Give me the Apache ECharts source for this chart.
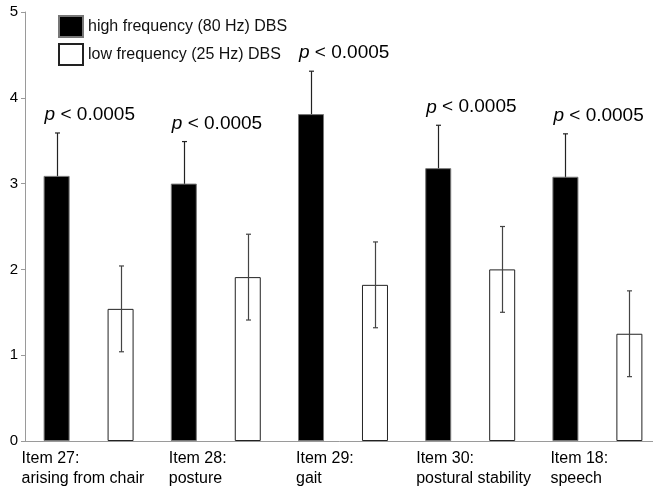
<!DOCTYPE html>
<html>
<head>
<meta charset="utf-8">
<script src="https://cdn.jsdelivr.net/npm/echarts@6/dist/echarts.min.js"></script>
<style>
html,body{margin:0;padding:0;background:#fff;}
#chart{width:653px;height:488px;}
</style>
</head>
<body>
<div id="chart"></div>
<script>
// ---- data ----
const categories = ['Item 27:\narising from chair', 'Item 28:\nposture', 'Item 29:\ngait', 'Item 30:\npostural stability', 'Item 18:\nspeech'];
const labelShift = [-67, -47, -47, -54, -47];
const seriesNames = ['high frequency (80 Hz) DBS', 'low frequency (25 Hz) DBS'];
const highFreq = [3.09, 3.00, 3.81, 3.18, 3.08];
const highErr = [0.50, 0.49, 0.50, 0.50, 0.50];
const lowFreq = [1.54, 1.91, 1.82, 2.00, 1.25];
const lowErr = [0.50, 0.50, 0.50, 0.50, 0.50];
const pText = ['0.0005', '0.0005', '0.0005', '0.0005', '0.0005'];
const yMin = 0, yMax = 5, yStep = 1;

// ---- layout constants ----
const FONT = "'Liberation Sans', Arial, sans-serif";
const BAR_W = 26;
const BAR_GAP = 1.46;
const HALF_OFF = BAR_W * (1 + BAR_GAP) / 2;

const chart = echarts.init(document.getElementById('chart'), null, {renderer: 'canvas'});

function errorSeries(vals, errs, sign, color, z) {
  return {
    type: 'custom',
    z: z,
    silent: true,
    data: vals.map((v, i) => [i, v - errs[i], v + errs[i]]),
    renderItem: function (params, api) {
      const c = api.value(0);
      const lo = api.coord([c, api.value(1)]);
      const hi = api.coord([c, api.value(2)]);
      const x = Math.round(lo[0] + sign * HALF_OFF) + 0.5;
      const cap = 2.5;
      const st = {stroke: color, lineWidth: 1.2};
      return {
        type: 'group',
        children: [
          {type: 'line', shape: {x1: x, y1: lo[1], x2: x, y2: hi[1]}, style: st},
          {type: 'line', shape: {x1: x - cap, y1: hi[1], x2: x + cap, y2: hi[1]}, style: st},
          {type: 'line', shape: {x1: x - cap, y1: lo[1], x2: x + cap, y2: lo[1]}, style: st}
        ]
      };
    }
  };
}

const option = {
  animation: false,
  backgroundColor: '#ffffff',
  textStyle: {fontFamily: FONT},
  grid: {left: 25, top: 12, width: 636, height: 429, containLabel: false, outerBoundsMode: 'none'},
  legend: {
    orient: 'vertical',
    left: 58,
    top: 15,
    padding: 0,
    itemWidth: 24,
    itemHeight: 21,
    itemGap: 5,
    icon: 'rect',
    data: seriesNames,
    textStyle: {fontFamily: FONT, fontSize: 16, color: '#111'},
    selectedMode: false
  },
  xAxis: {
    type: 'category',
    data: categories,
    axisLine: {lineStyle: {color: '#9a9a9a', width: 1}},
    axisTick: {show: false},
    axisLabel: {show: false}
  },
  yAxis: {
    type: 'value',
    min: yMin,
    max: yMax,
    interval: yStep,
    splitLine: {show: false},
    axisLine: {show: true, lineStyle: {color: '#9a9a9a', width: 1}},
    axisTick: {show: true, length: 4, lineStyle: {color: '#9a9a9a'}},
    axisLabel: {fontFamily: FONT, fontSize: 15, color: '#000', margin: 7, padding: [6, 0, 0, 0]}
  },
  series: [
    {
      name: seriesNames[0],
      type: 'bar',
      z: 2,
      data: highFreq,
      barWidth: BAR_W,
      barGap: (BAR_GAP * 100) + '%',
      itemStyle: {color: '#000000', borderColor: '#777', borderWidth: 1}
    },
    {
      name: seriesNames[1],
      type: 'bar',
      z: 2,
      data: lowFreq,
      barWidth: BAR_W,
      itemStyle: {color: '#ffffff', borderColor: '#222', borderWidth: 1}
    },
    errorSeries(highFreq, highErr, -1, '#222', 1),
    errorSeries(lowFreq, lowErr, 1, '#444', 5),
    {
      type: 'custom',
      z: 6,
      silent: true,
      data: highFreq.map((v, i) => [i, v + highErr[i]]),
      renderItem: function (params, api) {
        const c = api.value(0);
        const p = api.coord([c, api.value(1)]);
        const i = params.dataIndex;
        return {
          type: 'text',
          x: p[0] - HALF_OFF - BAR_W / 2 + 1,
          y: p[1] - 18,
          style: {
            text: '{i|p} < ' + pText[i],
            rich: {i: {fontStyle: 'italic', fontFamily: FONT, fontSize: 19, fill: '#000'}},
            fontFamily: FONT,
            fontSize: 19,
            fill: '#000',
            align: 'left',
            verticalAlign: 'middle'
          }
        };
      }
    },
    {
      type: 'custom',
      z: 6,
      silent: true,
      clip: false,
      data: categories.map((c, i) => [i, yMin]),
      renderItem: function (params, api) {
        const i = params.dataIndex;
        const p = api.coord([api.value(0), api.value(1)]);
        return {
          type: 'text',
          x: p[0] + labelShift[i],
          y: p[1] + 8,
          style: {
            text: categories[i],
            fontFamily: FONT,
            fontSize: 16,
            lineHeight: 20,
            fill: '#000',
            align: 'left',
            verticalAlign: 'top'
          }
        };
      }
    }
  ]
};
chart.setOption(option);
</script>
</body>
</html>
